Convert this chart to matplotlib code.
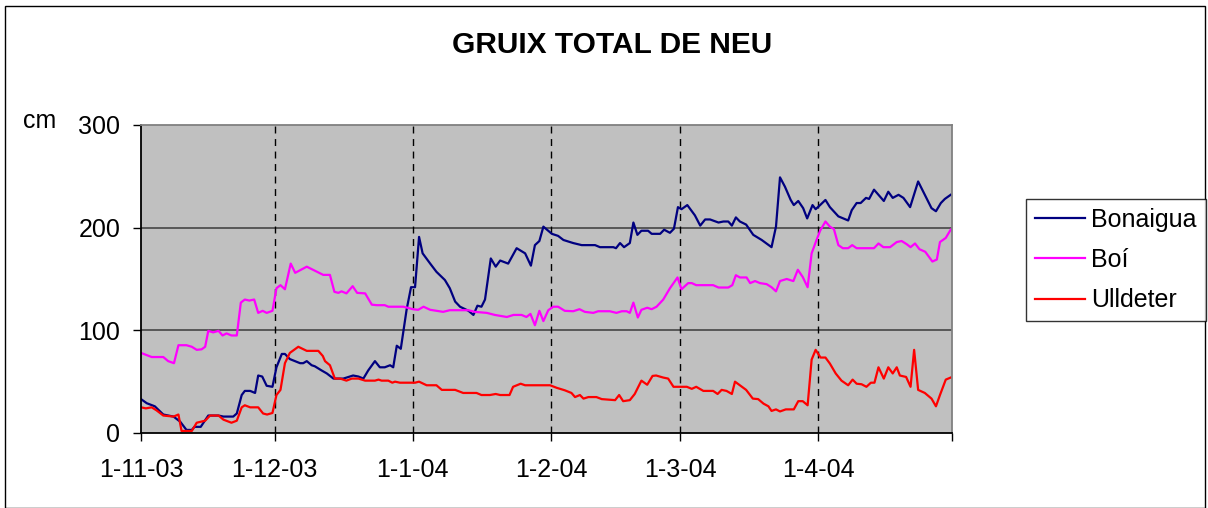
import matplotlib.pyplot as plt
from matplotlib.patches import Rectangle

plt.rcParams['font.family'] = ['Liberation Sans', 'DejaVu Sans']

# days since 1-11-03
bon_days = [0, 1.3, 3.1, 5, 7.3, 8.8, 10.2, 11.4, 12, 13.4, 15.1, 17.4, 18.5, 20.7, 21.5,
            22.6, 23.3, 24.5, 25.6, 26.3, 27.2, 28.2, 29.5, 30.4, 31.6, 32.3, 33.4, 35.7,
            36.4, 37.2, 38.3, 39, 40.5, 41.7, 43.2, 45.4, 47.6, 48.8, 49.9, 51, 52.5, 53.6,
            54.7, 55.9, 56.6, 57.4, 58.3, 59.6, 60.6, 61.5, 62.4, 63.2, 64.9, 66.3, 68.2,
            69.3, 70.5, 71.6, 73.5, 74.6, 75.5, 76.4, 77.2, 78.5, 79.6, 80.6, 82.4, 84.3,
            86.2, 87.5, 88.4, 89.4, 90.3, 92.2, 93.6, 94.8, 97, 98.9, 101.9, 103, 106,
            106.6, 107.5, 108.4, 109.7, 110.5, 111.4, 112.3, 113.8, 114.6, 116.5, 117.4,
            118.7, 119.6, 120.5, 121.3, 122.6, 124.3, 125.5, 126.6, 127.7, 129.6, 130.7,
            131.8, 132.6, 133.5, 134.4, 135.8, 137.4, 139.3, 141.5, 142.5, 143.4, 144.5,
            145.8, 146.5, 147.5, 148.6, 149.5, 150.7, 151.4, 152.4, 153.6, 154.6, 156.5,
            158.7, 159.5, 160.6, 161.5, 162.7, 163.4, 164.5, 165.7, 166.7, 167.7, 168.7,
            170, 171.1, 172.6, 174.4, 175.9, 177.4, 178.4, 179.5, 180.4, 181.7]
bonaigua = [33, 29, 26, 18, 16, 11, 3, 3, 6, 6, 17, 17, 16, 16, 19,
            37, 41, 41, 39, 56, 55, 46, 45, 64, 77, 77, 72, 68,
            68, 70, 66, 65, 61, 58, 53, 53, 56, 55, 53, 61, 70, 64,
            64, 66, 64, 85, 82, 120, 142, 142, 191, 175, 165, 157, 149,
            141, 128, 123, 119, 115, 124, 123, 130, 170, 162, 168, 165, 180,
            175, 163, 183, 187, 201, 194, 192, 188, 185, 183, 183, 181, 181,
            180, 185, 181, 185, 205, 193, 197, 197, 194, 194, 198,
            195, 199, 220, 218, 222, 212, 202, 208, 208, 205, 206,
            206, 202, 210, 206, 203, 193, 188, 181, 201, 249, 240,
            227, 222, 226, 219, 209, 222, 218, 222, 227, 220, 211,
            207, 217, 224, 224, 229, 228, 237, 231, 226, 235, 229,
            232, 229, 220, 245, 232, 219, 216, 224, 228, 232]

boi_days = [0, 2.4, 5, 6.1, 7.4, 8.4, 10.2, 11.4, 12.5, 13.6, 14.4, 15.1, 16.2, 17.4, 18.3,
            19.2, 20.3, 21.5, 22.4, 23.3, 24.3, 25.4, 26.3, 27.3, 28.2, 29.5, 30.4, 31.3,
            32.3, 33.6, 34.6, 37.2, 40.9, 42.4, 43.4, 44.3, 45, 46.1, 47.5, 48.5, 50.3,
            51.8, 52.9, 54.7, 55.5, 58.9, 61.1, 62.2, 63.4, 64.9, 67.8, 69.3, 73.5, 74.9,
            77.6, 79.4, 82.1, 83.6, 85.4, 86.5, 87.4, 88.4, 89.4, 90.3, 91.4, 92.5, 93.6,
            95.1, 97, 98.4, 99.6, 101.5, 102.6, 105.2, 106.7, 107.9, 109, 109.7, 110.5,
            111.5, 112.3, 113.6, 114.6, 115.7, 117.2, 118.7, 120.4, 121.3, 122.8, 123.6,
            124.6, 128.4, 129.6, 131.8, 132.7, 133.5, 134.4, 135.9, 136.7, 137.8, 138.9,
            140.4, 141.5, 142.5, 143.4, 144.9, 146.4, 147.4, 148.5, 149.6, 150.5, 151.6,
            152.4, 153.6, 154.6, 155.5, 156.5, 157.5, 158.7, 159.6, 160.6, 164.5, 165.5,
            166.6, 168.1, 169.6, 170.7, 171.8, 172.7, 173.7, 174.7, 176, 177.6, 178.6,
            179.3, 180.6, 181.7]
boi = [78, 74, 74, 70, 68, 85.5, 85.5, 84, 81, 81.5, 84, 99.5, 98, 99.5, 95,
       97, 95, 95, 127, 130, 129, 130, 117, 119, 117, 119, 141, 144,
       140, 165, 156, 162, 154, 154, 137.5, 136.5, 138, 136, 143, 136.5, 136,
       125, 124.5, 124.5, 123, 123, 120.5, 120, 123, 120, 118, 119.6, 119.6, 118,
       117, 115, 113, 115, 115, 113, 116, 105, 119, 109, 119.6, 123, 123,
       119, 118.6, 120.6, 118, 117, 118.6, 118.6, 117, 118.6, 118.6, 117, 127,
       112.5, 120, 122, 120.6, 123, 130, 141, 151.5, 140, 146, 146,
       144, 144, 141.7, 141.7, 144, 153.7, 151.5, 151.5, 146, 148, 146,
       145, 142, 138, 148, 150, 148, 159, 152, 142, 175, 188,
       197, 206, 201, 198.6, 183, 180, 180, 183, 180, 180, 184.6,
       181, 181, 186, 187, 184, 181, 184.6, 179, 176.5, 167, 169,
       186, 190, 198]

ull_days = [0, 1.1, 2.4, 3.5, 5, 7.3, 8.4, 9.1, 11.4, 12.5, 14.4, 15.5, 17.4, 18.5, 20.3,
            21.5, 22.6, 23.3, 24.5, 26.3, 27.4, 28.3, 29.5, 30.4, 31.3, 32.3, 33.4, 35.3,
            37.2, 39.8, 40.8, 41.3, 42.4, 43.5, 44.7, 46.1, 47.3, 48.8, 50.3, 52.5, 53.3,
            54, 55.5, 56.4, 57, 58.1, 61.5, 62.4, 64.1, 66.3, 67.5, 70.5, 72.3, 75.3,
            76.4, 78.3, 79.6, 80.6, 82.7, 83.5, 85.2, 86.2, 91.8, 93.3, 95.1, 96.6, 97.4,
            98.5, 99.3, 100.4, 102.2, 103.4, 106.4, 107.3, 108.2, 109.7, 110.8, 112.3,
            113.6, 114.8, 115.6, 117.2, 118.3, 119.5, 122.5, 123.6, 124.6, 126.2, 128.4,
            129.4, 130.3, 131.4, 132.6, 133.3, 134.4, 135.8, 137.3, 138.5, 139.7, 140.8,
            141.5, 142.5, 143.4, 144.7, 146.5, 147.5, 148.5, 149.6, 150.5, 151.4, 152.5,
            153.6, 154.6, 155.9, 157.2, 158.7, 159.7, 160.6, 161.7, 162.8, 163.8, 164.6,
            165.5, 166.7, 167.7, 168.7, 169.6, 170.3, 171.7, 172.7, 173.5, 174.4, 175.9,
            177.4, 178.4, 179.3, 180.6, 181.7]
ulldeter = [25, 24, 25, 22, 17, 16, 18, 2, 2, 10, 12, 17, 17, 13, 10,
            12, 25, 27, 25, 25, 19, 18, 19.5, 37, 42, 68, 78, 84,
            80, 80, 75, 70, 66, 53, 53, 51, 53, 53, 51, 51, 52,
            51, 51, 49, 50, 49, 49, 50, 46.5, 46.5, 42, 42, 39, 39,
            37, 37, 38, 37, 37, 45, 48, 46.5, 46.5, 44, 41.6, 39, 35,
            37, 33.5, 35, 35, 33, 32, 37, 31, 32, 38, 51,
            47, 55.6, 56, 54, 53, 45, 45, 43, 45, 41, 41,
            38, 42, 41, 38, 50, 46.5, 42, 33.5, 33, 28.6, 26,
            21.5, 23, 21, 23, 23, 31, 31, 27, 71.5, 81, 73.5,
            73.5, 67.6, 58, 51, 46.5, 52, 48, 47.5, 45, 49, 49,
            64, 53, 64, 58, 64, 56, 54.6, 45, 81, 42, 39,
            33.5, 26, 37, 52, 54]

month_days = [0, 30, 61, 92, 121, 152, 182]
month_labels = ['1-11-03', '1-12-03', '1-1-04', '1-2-04', '1-3-04', '1-4-04', '']

fig = plt.figure(figsize=(12.08, 5.08), dpi=100)
ax = fig.add_axes([141 / 1208, 75 / 508, 811 / 1208, 308 / 508])
ax.set_facecolor('#C0C0C0')

ax.plot(bon_days, bonaigua, color='#000080', lw=1.6, label='Bonaigua')
ax.plot(boi_days, boi, color='#FF00FF', lw=1.6, label='Boí')
ax.plot(ull_days, ulldeter, color='#FF0000', lw=1.6, label='Ulldeter')

ax.set_xlim(0, 182)
ax.set_ylim(0, 300)
ax.set_yticks([0, 100, 200, 300])
ax.set_xticks(month_days)
ax.set_xticklabels(month_labels)
ax.tick_params(labelsize=18, direction='out', length=6, width=1, color='black')
ax.tick_params(axis='x', pad=12)
ax.tick_params(axis='y', pad=9)

for y in [100, 200]:
    ax.axhline(y, color='#505050', lw=1.3, zorder=1)
for d in month_days[1:-1]:
    ax.axvline(d, color='black', lw=1, ls=(0, (5, 4)), zorder=1)

ax.spines['left'].set_color('black')
ax.spines['bottom'].set_color('black')
ax.spines['top'].set_color('#808080')
ax.spines['right'].set_color('#808080')
for s in ax.spines.values():
    s.set_linewidth(1.3)

fig.text(612 / 1208, 1 - 45 / 508, 'GRUIX TOTAL DE NEU', ha='center', va='center',
         fontsize=21.5, fontweight='bold')
fig.text(40 / 1208, 1 - 121 / 508, 'cm', ha='center', va='center', fontsize=18)

leg = fig.legend(loc='center', bbox_to_anchor=(1116 / 1208, 1 - 260 / 508), fontsize=18,
                 frameon=True, fancybox=False, edgecolor='black', handlelength=2.0,
                 borderpad=0.35, labelspacing=0.65, handletextpad=0.25)
leg.get_frame().set_linewidth(1)

fig.patches.append(Rectangle((5 / 1208, 0), 1200 / 1208, 502 / 508, transform=fig.transFigure,
                             fill=False, edgecolor='black', lw=1))

fig.savefig('out.png', dpi=100)
